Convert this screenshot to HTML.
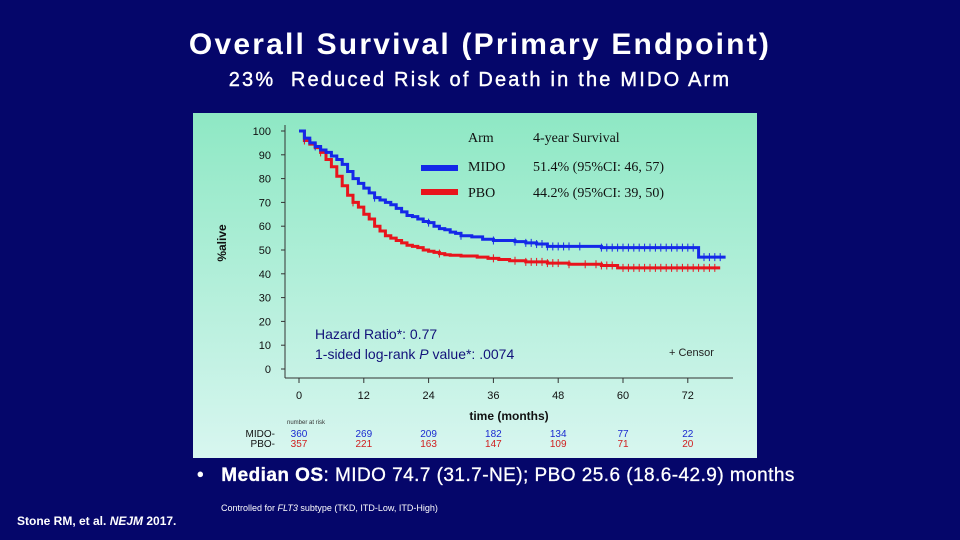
<!DOCTYPE html>
<html><head><meta charset="utf-8"><style>
html,body{margin:0;padding:0;}
body{width:960px;height:540px;background:#05066a;position:relative;overflow:hidden;font-family:"Liberation Sans",sans-serif;color:#fff;}
.t{position:absolute;white-space:nowrap;}
</style></head><body>
<div class="t" style="left:0;width:960px;text-align:center;top:28px;font-size:30px;font-weight:bold;letter-spacing:2.2px;">Overall Survival (Primary Endpoint)</div>
<div class="t" style="left:0;width:960px;text-align:center;top:69px;font-size:20px;letter-spacing:2.2px;-webkit-text-stroke:0.4px #fff;">23%&nbsp; Reduced Risk of Death in the MIDO Arm</div>
<svg style="position:absolute;left:193px;top:113px" width="564" height="345">
<defs><linearGradient id="g" x1="0" y1="0" x2="0" y2="1"><stop offset="0" stop-color="#8ee8c4"/><stop offset="1" stop-color="#d8f6f0"/></linearGradient></defs>
<rect width="564" height="345" fill="url(#g)"/>
<g id="plot" font-family="Liberation Sans, sans-serif"></g>
</svg>
<div class="t" style="left:197px;top:465px;font-size:19px;-webkit-text-stroke:0.3px #fff;letter-spacing:0.45px;">•&nbsp;&nbsp; <b>Median OS</b>: MIDO 74.7 (31.7-NE); PBO 25.6 (18.6-42.9) months</div>
<div class="t" style="left:221px;top:503px;font-size:9px;">Controlled for <i>FLT3</i> subtype (TKD, ITD-Low, ITD-High)</div>
<div class="t" style="left:17px;top:514px;font-size:12px;font-weight:bold;">Stone RM, et al. <i>NEJM</i> 2017.</div>
<script>
const midoT=[0,1,2,3,4,5,6,7,8,9,10,11,12,13,14,15,16,17,18,19,20,21,22,23,24,25,26,27,28,29,30,32,34,36,40,42,44,46,56,74,79];
const midoS=[100,97,95,93.5,92,91,89.5,88,86,83,80,78,76,74,72,71,70,69,67.5,66,64.5,64,63,62,61.5,60,59,58.5,57.5,57,56,55.5,54.5,54,53.5,53,52.5,51.5,51,47,47];
const pboT=[0,1,2,3,4,5,6,7,8,9,10,11,12,13,14,15,16,17,18,19,20,21,22,23,24,25,26,27,28,30,33,35,37,39,42,46,50,56,59,78];
const pboS=[100,96,94.5,93,91,88,85,81,77,73,70,68,65,63,60,58,56,55,54,53,52,51.5,51,50,49.5,49,48.5,48,47.8,47.5,47,46.5,46,45.5,45,44.5,44,43.5,42.5,42.5];
const midoCensor=[1,3,14,24,30,36,40,42,43,44,45,46,47,48,49,50,52,56,57,58,59,60,61,62,63,64,65,66,67,68,69,70,71,72,73,75,76,77,78];
const pboCensor=[1,4,10,26,36,40,42,43,44,45,46,47,48,50,53,55,56,57,58,60,61,62,63,64,65,66,67,68,69,70,71,72,73,74,75,76,77];
const xTicks=[0,12,24,36,48,60,72];
const yTicks=[0,10,20,30,40,50,60,70,80,90,100];
const midoRisk=[360,269,209,182,134,77,22];
const pboRisk=[357,221,163,147,109,71,20];
const OX=193,OY=113;
const X=m=>299-OX+m*5.40;
const Y=v=>369-OY-(v/100)*238;
const NS="http://www.w3.org/2000/svg";
const g=document.getElementById('plot');
function mk(tag,attrs,txt){const e=document.createElementNS(NS,tag);for(const k in attrs)e.setAttribute(k,attrs[k]);if(txt!==undefined)e.textContent=txt;g.appendChild(e);return e;}
function valAt(T,S,t){let v=S[0];for(let i=0;i<T.length;i++){if(T[i]<=t)v=S[i];}return v;}
let e;
e=mk('line',{x1:92,y1:12,x2:92,y2:265,stroke:'#333','stroke-width':1});


e=mk('line',{x1:92,y1:265,x2:540,y2:265,stroke:'#333','stroke-width':1});


yTicks.forEach(v=>{
 mk('line',{x1:88,x2:92,y1:Y(v),y2:Y(v),stroke:'#333'});
 e=mk('text',{x:78,y:Y(v)+4,'text-anchor':'end','font-size':11,fill:'#111'},v);
 
 
});
xTicks.forEach((m,i)=>{
 mk('line',{x1:X(m),x2:X(m),y1:265,y2:270,stroke:'#333'});
 e=mk('text',{x:X(m),y:286,'text-anchor':'middle','font-size':11,fill:'#111'},m);
 
 
 e=mk('text',{x:X(m),y:324,'text-anchor':'middle','font-size':10,fill:'#1a2ad0'},midoRisk[i]);
 
 
 e=mk('text',{x:X(m),y:334,'text-anchor':'middle','font-size':10,fill:'#d02020'},pboRisk[i]);
 
 
});
e=mk('text',{x:316,y:307,'text-anchor':'middle','font-size':12,'font-weight':'bold',fill:'#111'},'time (months)');


e=mk('text',{x:0,y:0,transform:'translate(33,130) rotate(-90)','text-anchor':'middle','font-size':12,'font-weight':'bold',fill:'#111'},'%alive');


e=mk('text',{x:94,y:311,'font-size':6,fill:'#333'},'number at risk');


e=mk('text',{x:82,y:324,'text-anchor':'end','font-size':10,fill:'#111'},'MIDO-');


e=mk('text',{x:82,y:334,'text-anchor':'end','font-size':10,fill:'#111'},'PBO-');


function stepPath(T,S){let d='M'+X(T[0])+','+Y(S[0]);for(let i=1;i<T.length;i++){d+=' H'+X(T[i])+' V'+Y(S[i]);}return d;}
e=mk('path',{d:stepPath(pboT,pboS),fill:'none',stroke:'#e8141c','stroke-width':3});


pboCensor.forEach(t=>{
 const y=Y(valAt(pboT,pboS,t));
 e=mk('line',{x1:X(t),x2:X(t),y1:y-4,y2:y+4,stroke:'#e8141c','stroke-width':1});
 
 
});
e=mk('path',{d:stepPath(midoT,midoS),fill:'none',stroke:'#1428e8','stroke-width':3});


midoCensor.forEach(t=>{
 const y=Y(valAt(midoT,midoS,t));
 e=mk('line',{x1:X(t),x2:X(t),y1:y-4,y2:y+4,stroke:'#1428e8','stroke-width':1});
 
 
});
e=mk('line',{x1:228,x2:265,y1:55,y2:55,stroke:'#1428e8','stroke-width':6});


e=mk('line',{x1:228,x2:265,y1:79,y2:79,stroke:'#e8141c','stroke-width':6});


const sf={'font-family':'Liberation Serif, serif','font-size':14,fill:'#111'};
e=mk('text',Object.assign({x:275,y:29},sf),'Arm');


e=mk('text',Object.assign({x:340,y:29},sf),'4-year Survival');


e=mk('text',Object.assign({x:275,y:58},sf),'MIDO');


e=mk('text',Object.assign({x:340,y:58},sf),'51.4% (95%CI: 46, 57)');


e=mk('text',Object.assign({x:275,y:84},sf),'PBO');


e=mk('text',Object.assign({x:340,y:84},sf),'44.2% (95%CI: 39, 50)');


e=mk('text',{x:122,y:226,'font-size':14,fill:'#12127a'},'Hazard Ratio*: 0.77');


e=mk('text',{x:122,y:246,'font-size':14,fill:'#12127a'},'');


e.innerHTML='1-sided log-rank <tspan font-style="italic">P</tspan> value*: .0074';
e=mk('text',{x:476,y:243,'font-size':11,fill:'#222'},'+ Censor');


</script>
</body></html>
